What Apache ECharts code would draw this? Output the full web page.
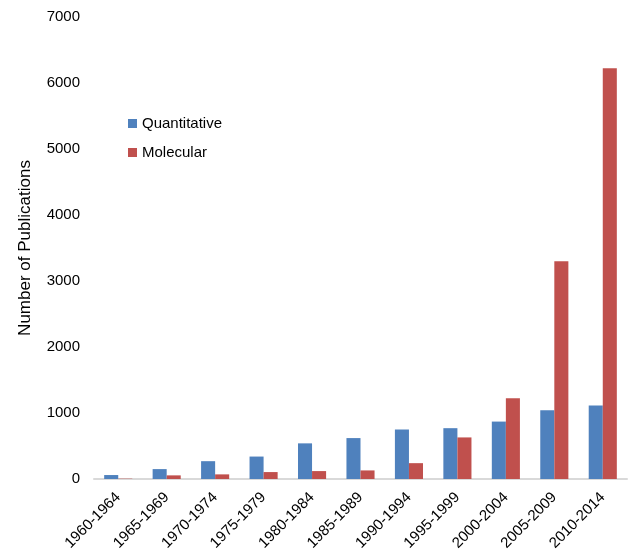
<!DOCTYPE html>
<html>
<head>
    <meta charset="UTF-8">
    <title>Number of Publications</title>
    <script src="https://cdn.jsdelivr.net/npm/echarts@6/dist/echarts.min.js"></script>
    <style>
        html, body { margin: 0; padding: 0; background: #fff; }
        #chart { width: 633px; height: 551px; }
    </style>
</head>
<body>
    <div id="chart"></div>
    <script type="text/javascript">
        // 数据
        var periods = ['1960-1964', '1965-1969', '1970-1974', '1975-1979', '1980-1984', '1985-1989',
                       '1990-1994', '1995-1999', '2000-2004', '2005-2009', '2010-2014'];
        var quantitative = [60, 150, 270, 340, 540, 620, 750, 770, 870, 1040, 1115];
        var molecular = [5, 55, 70, 105, 120, 130, 240, 630, 1225, 3300, 6225];

        var myChart = echarts.init(document.getElementById('chart'));

        var font = 'Liberation Sans, Arial, Helvetica, sans-serif';

        var option = {
            backgroundColor: '#ffffff',
            animation: false,
            textStyle: { fontFamily: font },
            legend: {
                orient: 'vertical',
                left: 128,
                top: 116,
                padding: 0,
                icon: 'rect',
                itemWidth: 9,
                itemHeight: 9,
                itemGap: 14,
                textStyle: { fontSize: 15, color: '#000', fontFamily: font },
                data: ['Quantitative', 'Molecular']
            },
            grid: {
                left: 94,
                right: 6,
                top: 17,
                bottom: 72,
                outerBoundsMode: 'none'
            },
            xAxis: {
                type: 'category',
                data: periods,
                axisLine: { lineStyle: { color: '#d9d9d9', width: 2 } },
                axisTick: { show: false },
                axisLabel: {
                    rotate: 45,
                    interval: 0,
                    fontSize: 15,
                    color: '#000',
                    fontFamily: font,
                    margin: 16
                }
            },
            yAxis: {
                type: 'value',
                min: 0,
                max: 7000,
                interval: 1000,
                name: 'Number of Publications',
                nameLocation: 'middle',
                nameGap: 60,
                nameTextStyle: { fontSize: 17, color: '#000', fontFamily: font },
                axisLine: { show: false },
                axisTick: { show: false },
                splitLine: { show: false },
                axisLabel: {
                    fontSize: 15,
                    color: '#000',
                    fontFamily: font,
                    margin: 14,
                    formatter: function (v) { return String(v); }
                }
            },
            series: [
                {
                    name: 'Quantitative',
                    type: 'bar',
                    data: quantitative,
                    barGap: '0%',
                    barCategoryGap: '42%',
                    itemStyle: { color: '#4f81bd' }
                },
                {
                    name: 'Molecular',
                    type: 'bar',
                    data: molecular,
                    itemStyle: { color: '#c0504d' }
                }
            ]
        };
        myChart.setOption(option);
    </script>
</body>
</html>
